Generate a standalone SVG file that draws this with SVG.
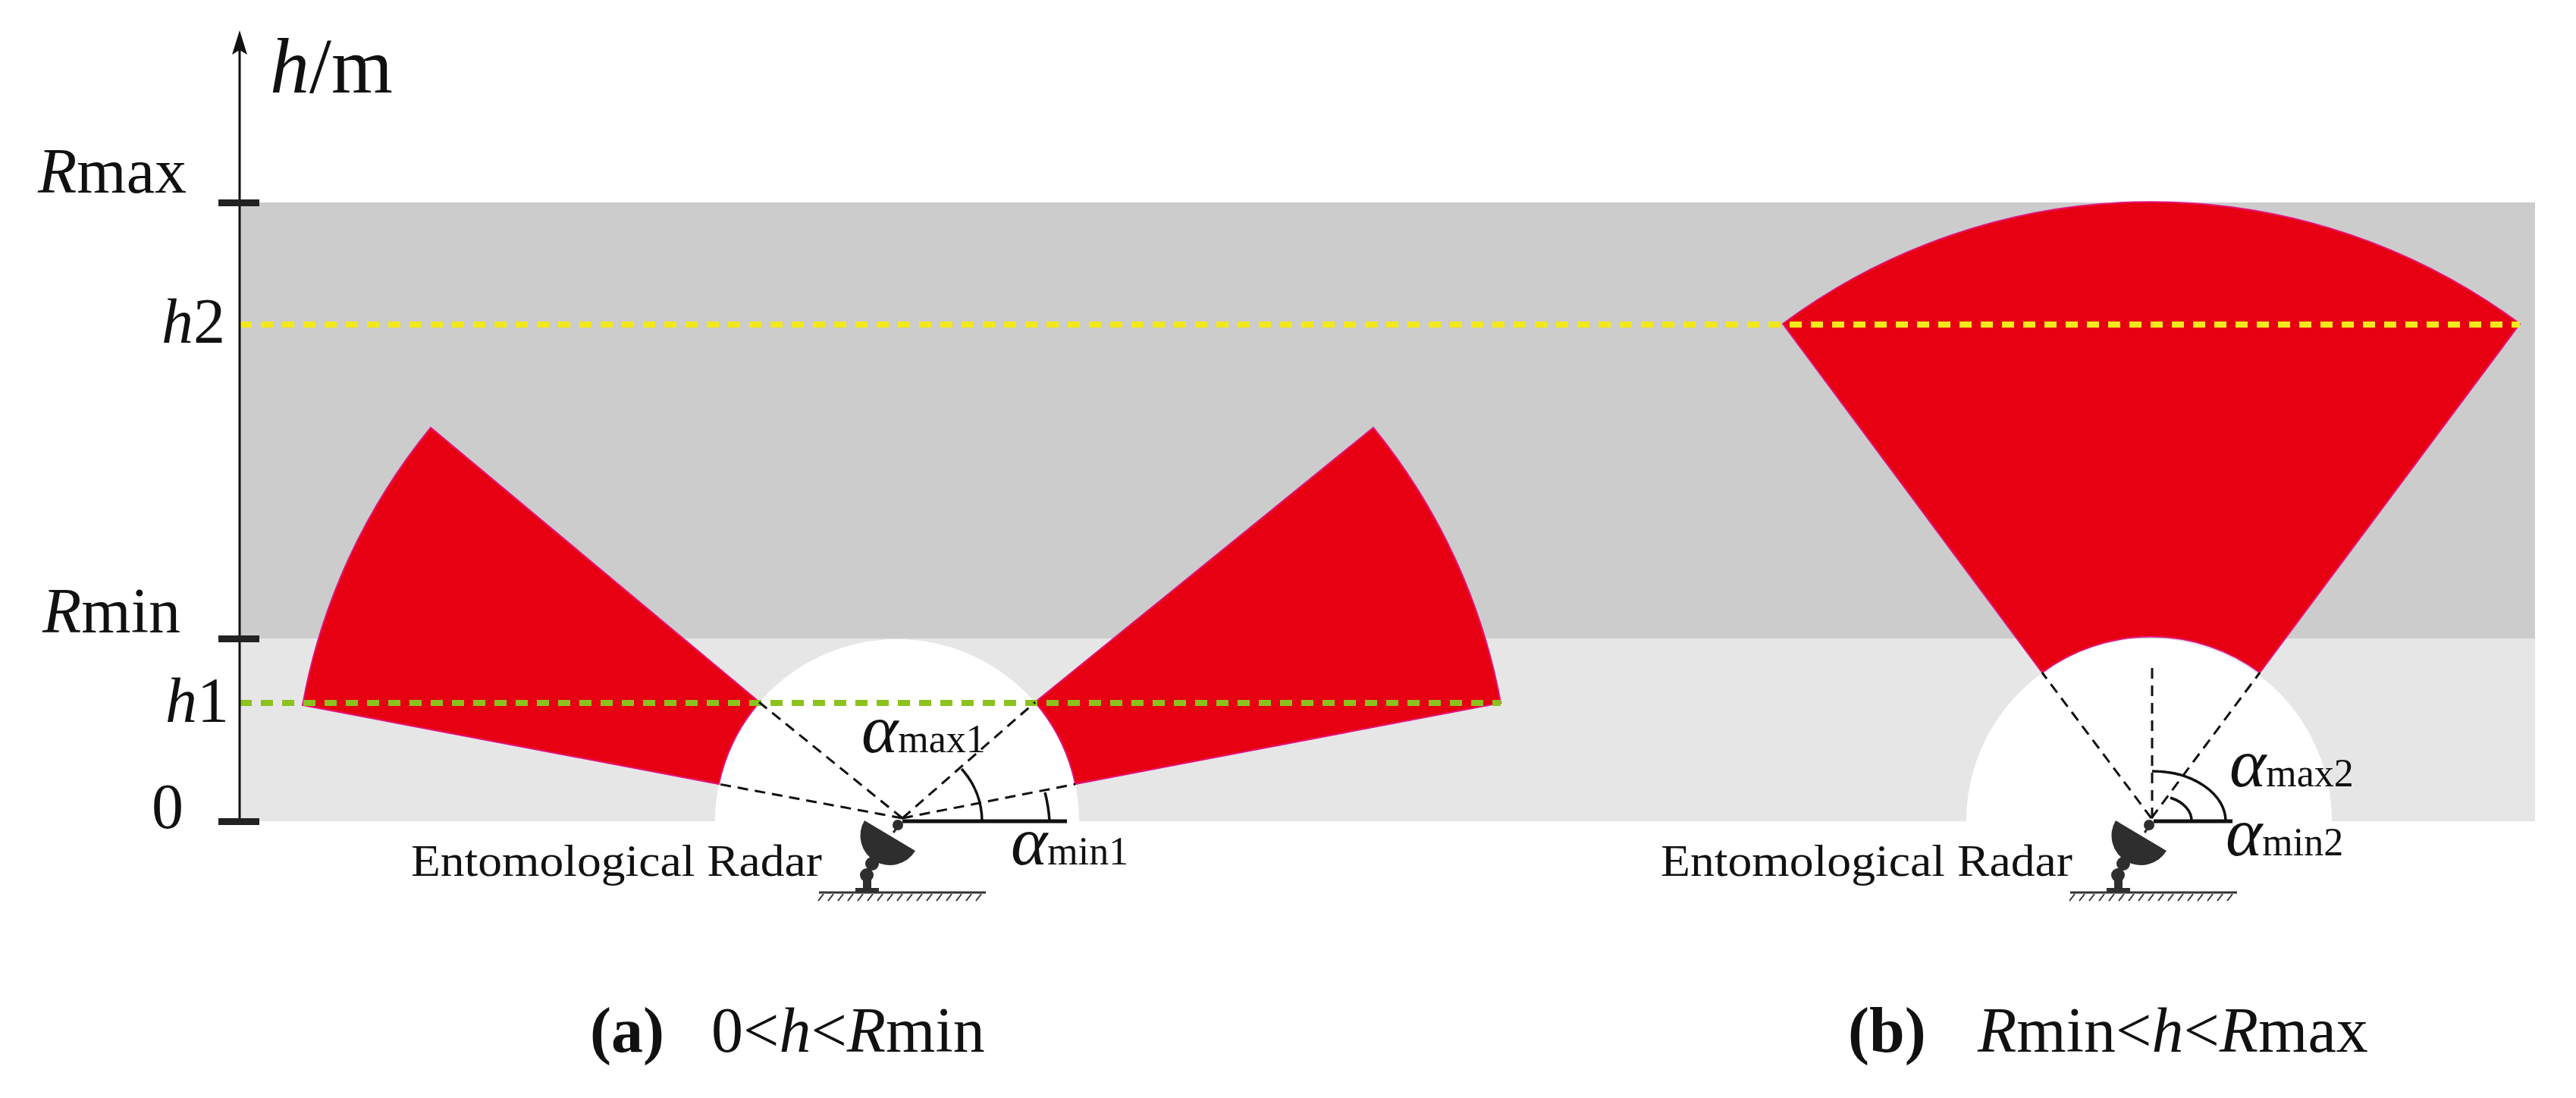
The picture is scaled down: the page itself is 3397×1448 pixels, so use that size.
<svg xmlns="http://www.w3.org/2000/svg" width="3397" height="1448" viewBox="0 0 3397 1448">
<style>
text{font-family:"Liberation Serif","DejaVu Serif",serif;fill:#111}
.it{font-style:italic}
.lab{font-size:84px}
.sub{font-size:52px}
.red{fill:#e60012;stroke:#e4137a;stroke-width:2}
.dash{stroke:#111;stroke-width:3;stroke-dasharray:14 9;fill:none}
.solid{stroke:#111;stroke-width:5;fill:none}
.arc{stroke:#111;stroke-width:3.5;fill:none}
</style>
<defs>
<g id="radar">
<path d="M -50 0 L 17 40 A 39 39 0 0 1 -50 0 Z" fill="#2e2e2e"/>
<circle cx="-6" cy="6" r="7" fill="#2e2e2e"/>
<line x1="-6" y1="8" x2="-12" y2="16" stroke="#2e2e2e" stroke-width="3"/>
<path d="M -22 38 L -38 52" stroke="#2e2e2e" stroke-width="10" fill="none"/>
<circle cx="-40" cy="57" r="9" fill="#2e2e2e"/>
<circle cx="-47" cy="72" r="9" fill="#2e2e2e"/>
<rect x="-52" y="76" width="11" height="16" fill="#2e2e2e"/>
<rect x="-62" y="89" width="31" height="6" fill="#2e2e2e"/>
<line x1="-110" y1="95" x2="110" y2="95" stroke="#333" stroke-width="3"/>
<path d="M-104 97 l-7 9 M-91 97 l-7 9 M-78 97 l-7 9 M-65 97 l-7 9 M-52 97 l-7 9 M-39 97 l-7 9 M-26 97 l-7 9 M-13 97 l-7 9 M0 97 l-7 9 M13 97 l-7 9 M26 97 l-7 9 M39 97 l-7 9 M52 97 l-7 9 M65 97 l-7 9 M78 97 l-7 9 M91 97 l-7 9 M104 97 l-7 9" stroke="#333" stroke-width="2"/>
</g>
</defs>
<g id="background">
<rect x="316" y="267" width="3027" height="575" fill="#cccccc"/>
<rect x="316" y="842" width="3027" height="241" fill="#e6e6e6"/>
<path d="M 943 1083 A 240 240 0 0 1 1423 1083 Z" fill="#fff"/>
<path d="M 2593 1083 A 241 241 0 0 1 3075 1083 Z" fill="#fff"/>
</g>
<g id="sectors">
<path class="red" d="M 1001.5 926 L 568 564 A 803 803 0 0 0 399 930 L 948 1034 A 240 240 0 0 1 1001.5 926 Z"/>
<path class="red" d="M 1365 926 L 1811 564 A 805 805 0 0 1 1979 927 L 1418 1034 A 240 240 0 0 0 1365 926 Z"/>
<path class="red" d="M 2693 887 L 2351 427 A 815 815 0 0 1 3323 427 L 2980 887 A 241 241 0 0 0 2693 887 Z"/>
</g>
<g id="levels">
<line x1="316" y1="428" x2="3323" y2="428" stroke="#f2e81c" stroke-width="8" stroke-dasharray="16 12"/>
<line x1="316" y1="927" x2="1979" y2="927" stroke="#8cc21e" stroke-width="8" stroke-dasharray="16 12"/>
</g>
<g id="axis">
<line x1="316" y1="1083" x2="316" y2="60" stroke="#111" stroke-width="3"/>
<path d="M 316 40 L 326 72 L 316 66 L 306 72 Z" fill="#111"/>
<rect x="288" y="263" width="54" height="9" fill="#222"/>
<rect x="288" y="838" width="54" height="9" fill="#222"/>
<rect x="288" y="1079" width="54" height="9" fill="#222"/>
<text x="356" y="122" style="font-size:104px"><tspan class="it">h</tspan>/m</text>
<text x="50" y="254" class="lab"><tspan class="it">R</tspan>max</text>
<text x="213" y="452" class="lab"><tspan class="it">h</tspan>2</text>
<text x="56" y="834" class="lab"><tspan class="it">R</tspan>min</text>
<text x="218" y="952" class="lab"><tspan class="it">h</tspan>1</text>
<text x="200" y="1092" class="lab">0</text>
</g>
<g id="connectors">
<line class="dash" x1="1190" y1="1079" x2="948" y2="1034"/>
<line class="dash" x1="1190" y1="1079" x2="1001" y2="926"/>
<line class="dash" x1="1190" y1="1079" x2="1365" y2="926"/>
<line class="dash" x1="1190" y1="1079" x2="1418" y2="1034"/>
<line class="solid" x1="1190" y1="1083" x2="1407" y2="1083"/>
<path class="arc" d="M 1268 1014 A 103 103 0 0 1 1295 1083"/>
<path class="arc" d="M 1378 1045 A 195 195 0 0 1 1384 1083"/>
<line class="dash" x1="2837" y1="1079" x2="2693" y2="887"/>
<line class="dash" x1="2837" y1="1079" x2="2980" y2="887"/>
<line class="dash" x1="2838" y1="1079" x2="2838" y2="872"/>
<line class="solid" x1="2840" y1="1083" x2="2944" y2="1083"/>
<path class="arc" d="M 2838 1017 A 97 66 0 0 1 2935 1083"/>
<path class="arc" d="M 2862 1052 A 48 33 0 0 1 2890 1083"/>
</g>
<g id="radarA">
<use href="#radar" x="1190" y="1082"/>
<text x="542" y="1155" style="font-size:60px" textLength="542" lengthAdjust="spacingAndGlyphs">Entomological Radar</text>
<text x="1136" y="992"><tspan class="it" style="font-size:92px">α</tspan><tspan class="sub">max1</tspan></text>
<text x="1333" y="1140"><tspan class="it" style="font-size:92px">α</tspan><tspan class="sub">min1</tspan></text>
</g>
<g id="radarB">
<use href="#radar" x="2840" y="1082"/>
<text x="2190" y="1155" style="font-size:60px" textLength="543" lengthAdjust="spacingAndGlyphs">Entomological Radar</text>
<text x="2940" y="1037"><tspan class="it" style="font-size:92px">α</tspan><tspan class="sub">max2</tspan></text>
<text x="2935" y="1128"><tspan class="it" style="font-size:92px">α</tspan><tspan class="sub">min2</tspan></text>
</g>
<g id="captions">
<text x="778" y="1387" class="lab"><tspan font-weight="bold">(a)</tspan></text>
<text x="938" y="1387" class="lab">0&lt;<tspan class="it">h</tspan>&lt;<tspan class="it">R</tspan>min</text>
<text x="2437" y="1387" class="lab"><tspan font-weight="bold">(b)</tspan></text>
<text x="2608" y="1387" class="lab"><tspan class="it">R</tspan>min&lt;<tspan class="it">h</tspan>&lt;<tspan class="it">R</tspan>max</text>
</g>
</svg>
